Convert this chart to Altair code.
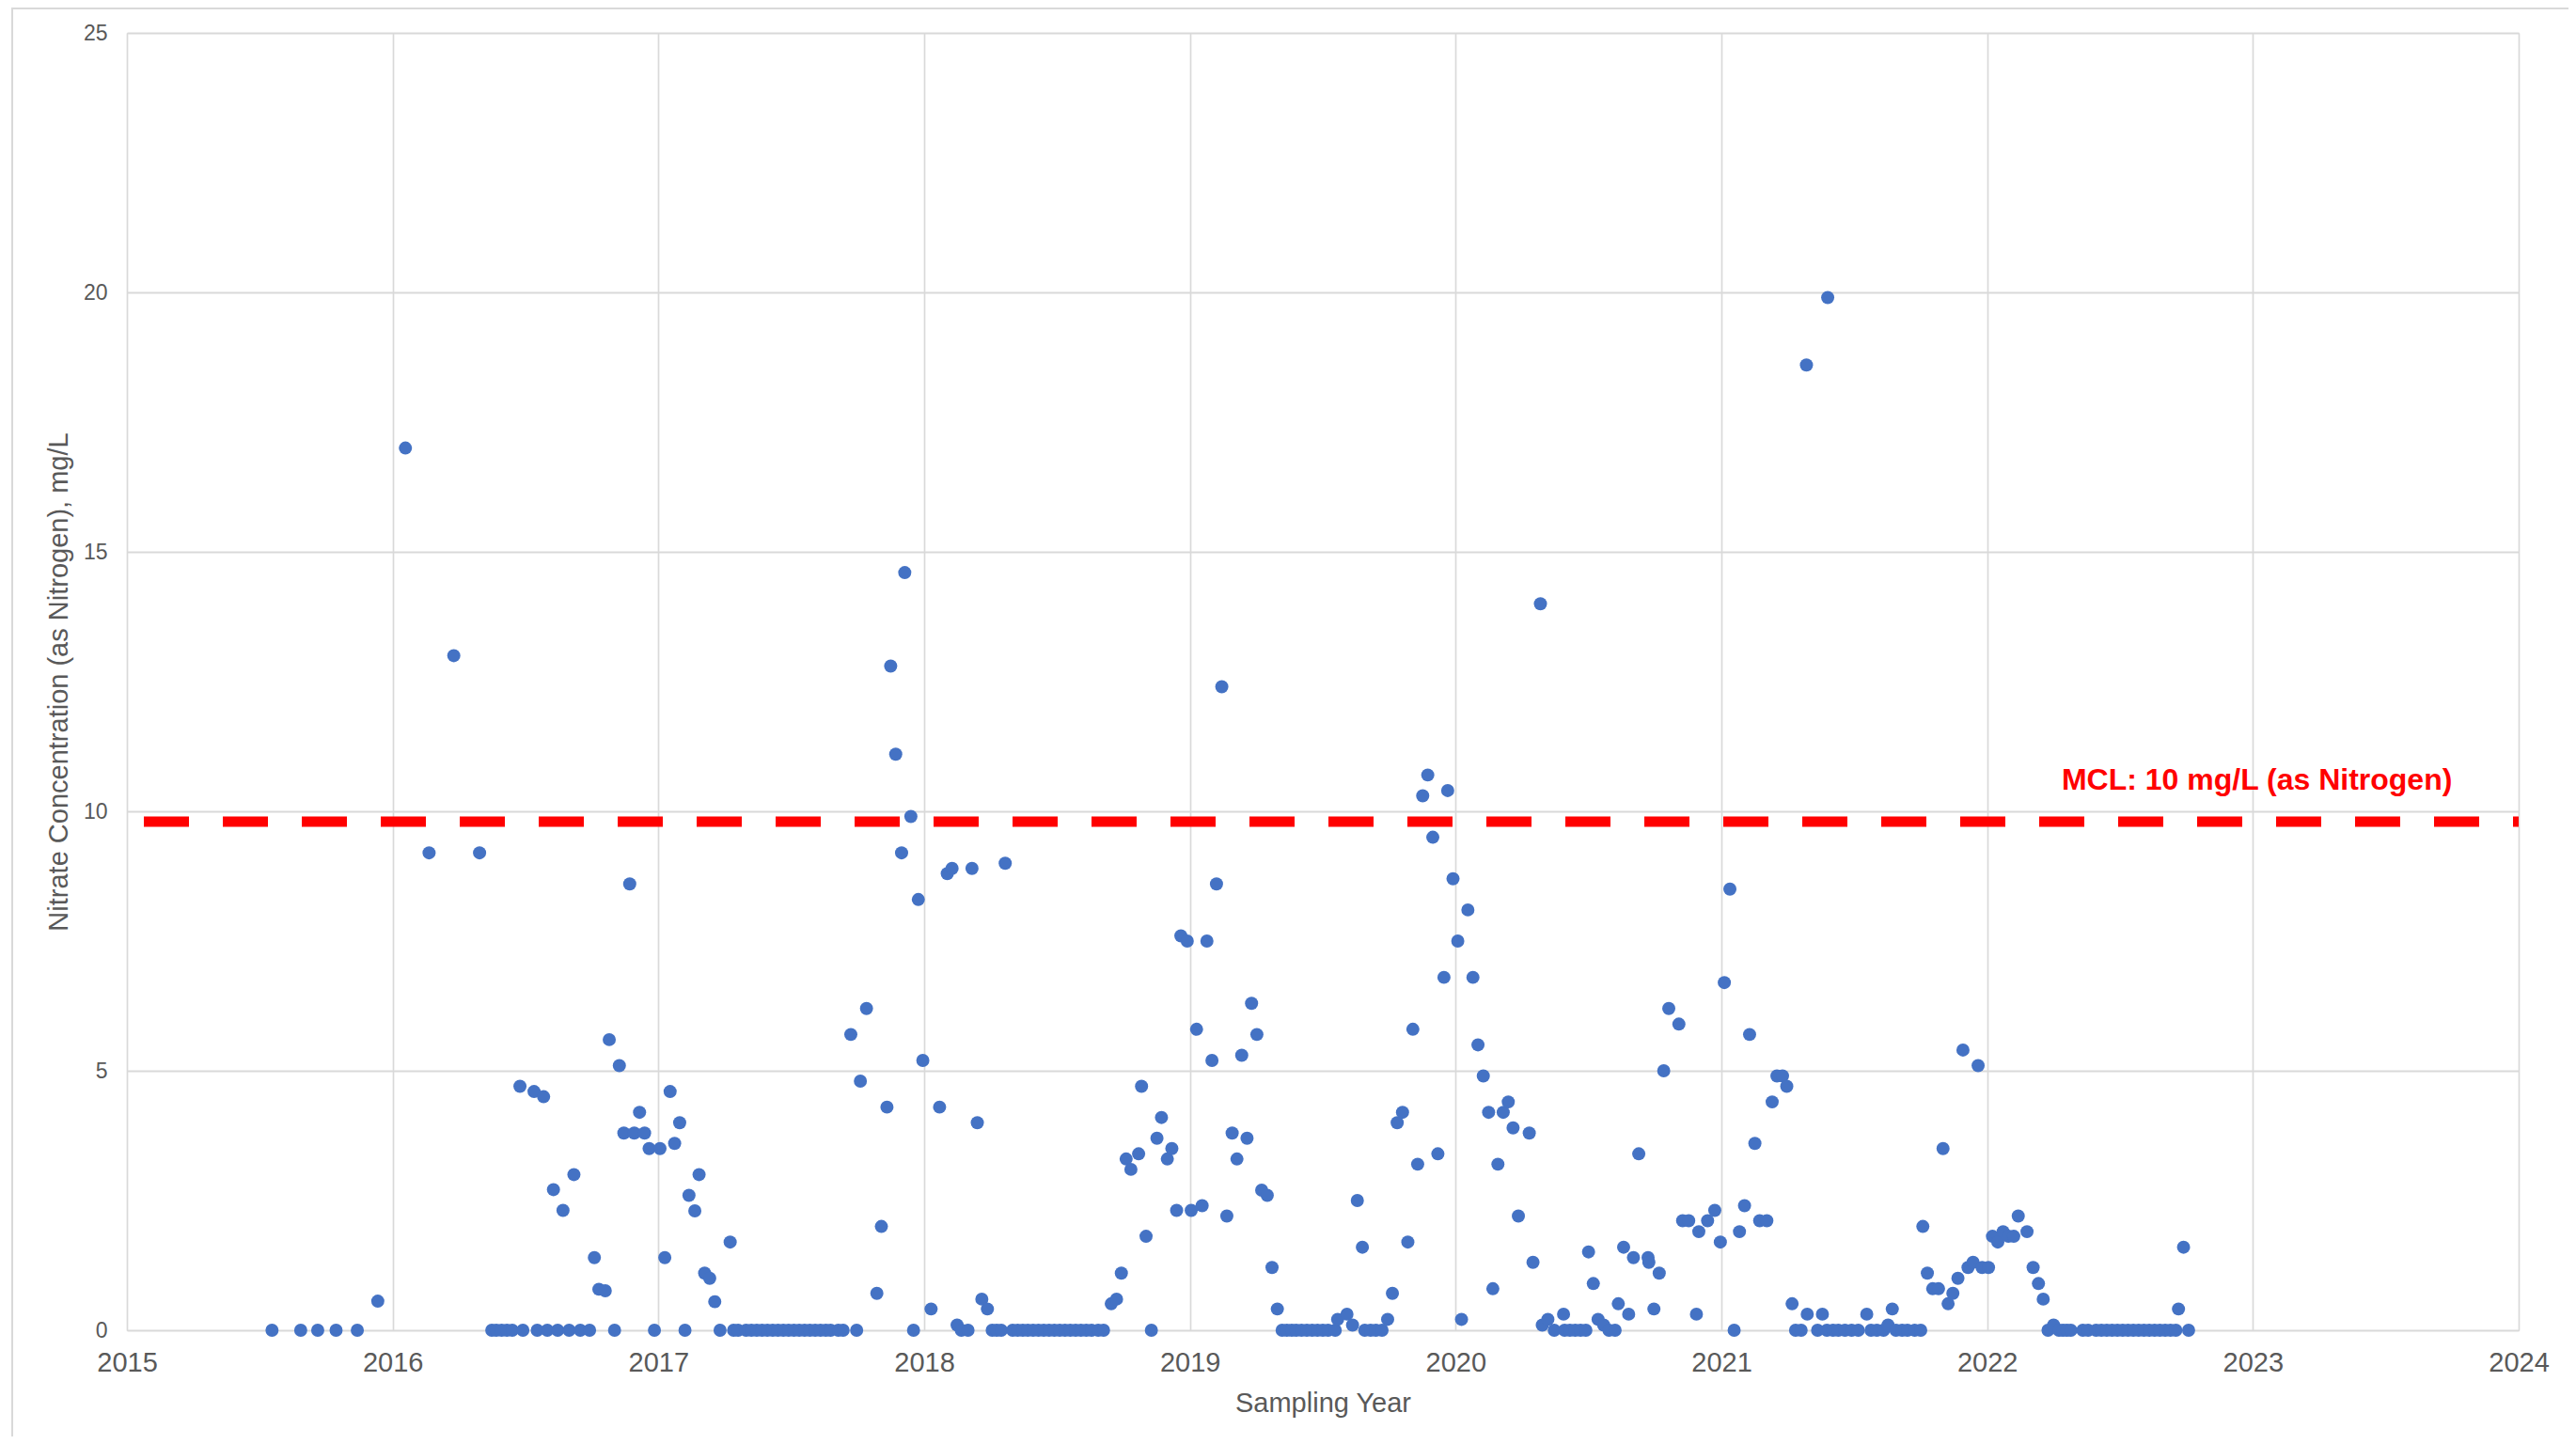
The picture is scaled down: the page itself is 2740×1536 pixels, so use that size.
import altair as alt
import pandas as pd

# ---- Data ----
years = [
    2015.546, 2015.654, 2015.718, 2015.787, 2015.867, 2015.944,
    2016.048, 2016.137, 2016.23, 2016.327,
    2016.373, 2016.39, 2016.41, 2016.43, 2016.45, 2016.49,
    2016.479, 2016.532, 2016.568,
    2016.544, 2016.582, 2016.621, 2016.664, 2016.706, 2016.741,
    2016.605, 2016.641, 2016.682, 2016.759, 2016.776, 2016.80, 2016.815, 2016.835,
    2016.853, 2016.870, 2016.892, 2016.909, 2016.929, 2016.948, 2016.965, 2016.985,
    2017.006, 2017.024, 2017.044, 2017.061, 2017.080, 2017.100, 2017.115, 2017.137,
    2017.153, 2017.174, 2017.193, 2017.212, 2017.232, 2017.27,
    2017.283, 2017.30, 2017.33, 2017.35, 2017.37, 2017.39, 2017.41, 2017.43, 2017.45,
    2017.47, 2017.49, 2017.51, 2017.53, 2017.55, 2017.57, 2017.59, 2017.61, 2017.63,
    2017.648, 2017.677, 2017.695, 2017.746,
    2017.724, 2017.76, 2017.783, 2017.822, 2017.839, 2017.86, 2017.874, 2017.893,
    2017.915, 2017.927, 2017.95, 2017.96, 2017.978, 2017.995,
    2018.026, 2018.058, 2018.087, 2018.105, 2018.124, 2018.14, 2018.165, 2018.18,
    2018.20, 2018.217, 2018.238, 2018.256, 2018.273, 2018.29, 2018.305,
    2018.333, 2018.352, 2018.371, 2018.39, 2018.41, 2018.43, 2018.45, 2018.47, 2018.49,
    2018.51, 2018.53, 2018.55, 2018.57, 2018.59, 2018.61, 2018.63, 2018.655, 2018.675,
    2018.704, 2018.724, 2018.742, 2018.76, 2018.778, 2018.807, 2018.818, 2018.835,
    2018.855, 2018.876, 2018.893, 2018.915, 2018.932, 2018.95, 2018.966, 2018.99,
    2019.005, 2019.025, 2019.046, 2019.064, 2019.083, 2019.10, 2019.12, 2019.139,
    2019.159, 2019.177, 2019.195, 2019.215, 2019.232, 2019.252, 2019.27, 2019.291,
    2019.309, 2019.329,
    2019.347, 2019.365, 2019.383, 2019.40, 2019.42, 2019.44, 2019.46, 2019.48, 2019.50,
    2019.52, 2019.547,
    2019.556, 2019.591, 2019.612, 2019.63, 2019.649,
    2019.658, 2019.68, 2019.70, 2019.723,
    2019.744, 2019.762, 2019.78, 2019.80, 2019.82, 2019.839, 2019.857, 2019.876,
    2019.895, 2019.914, 2019.933, 2019.956, 2019.97, 2019.99,
    2020.008, 2020.022, 2020.046, 2020.065, 2020.084, 2020.104, 2020.124, 2020.14,
    2020.159, 2020.179, 2020.198, 2020.216, 2020.236, 2020.277, 2020.291, 2020.319,
    2020.326, 2020.347, 2020.371, 2020.406,
    2020.41, 2020.43, 2020.45, 2020.47, 2020.49,
    2020.50, 2020.518, 2020.536, 2020.557, 2020.577, 2020.60, 2020.612, 2020.632,
    2020.651, 2020.669, 2020.689, 2020.724, 2020.727, 2020.746, 2020.766, 2020.783,
    2020.802, 2020.84, 2020.854, 2020.877, 2020.906, 2020.915, 2020.948, 2020.975,
    2020.996,
    2021.011, 2021.032, 2021.048, 2021.068, 2021.087, 2021.106, 2021.126, 2021.144,
    2021.171, 2021.191, 2021.209, 2021.23, 2021.246, 2021.266, 2021.279, 2021.30,
    2021.32, 2021.323, 2021.362, 2021.38, 2021.40,
    2021.397, 2021.42, 2021.44, 2021.465, 2021.49, 2021.515,
    2021.547, 2021.563, 2021.585, 2021.61, 2021.627, 2021.643,
    2021.657, 2021.68, 2021.70, 2021.727, 2021.75,
    2021.758, 2021.775, 2021.795, 2021.817, 2021.834, 2021.853, 2021.871, 2021.89,
    2021.909, 2021.928, 2021.947, 2021.966, 2021.981,
    2022.005, 2022.02, 2022.04, 2022.06, 2022.08, 2022.10, 2022.117, 2022.15,
    2022.173, 2022.193, 2022.211, 2022.229, 2022.25,
    2022.27, 2022.285, 2022.30, 2022.315, 2022.36, 2022.38, 2022.41, 2022.43, 2022.45,
    2022.47, 2022.49, 2022.51, 2022.53, 2022.55, 2022.57, 2022.59, 2022.61, 2022.63,
    2022.65, 2022.67, 2022.69, 2022.71,
    2022.72, 2022.739, 2022.758,
]

nitrate = [
    0, 0, 0, 0, 0, 0.56,
    17.0, 9.2, 13.0, 9.2,
    0, 0, 0, 0, 0, 0,
    4.7, 4.6, 4.5,
    0, 0, 0, 0, 0, 0,
    2.71, 2.31, 3.0, 1.40, 0.79, 0.76, 5.6, 0,
    5.1, 3.8, 8.6, 3.8, 4.2, 3.8, 3.5, 0,
    3.5, 1.40, 4.6, 3.6, 4.0, 0, 2.6, 2.3,
    3.0, 1.10, 1.0, 0.55, 0, 1.70,
    0, 0, 0, 0, 0, 0, 0, 0, 0,
    0, 0, 0, 0, 0, 0, 0, 0, 0,
    0, 0, 0, 0,
    5.7, 4.8, 6.2, 0.71, 2.0, 4.3, 12.8, 11.1,
    9.2, 14.6, 9.9, 0, 8.3, 5.2,
    0.41, 4.3, 8.8, 8.9, 0.10, 0, 0, 8.9,
    4.0, 0.60, 0.41, 0, 0, 0, 9.0,
    0, 0, 0, 0, 0, 0, 0, 0, 0,
    0, 0, 0, 0, 0, 0, 0, 0, 0,
    0.51, 0.60, 1.10, 3.3, 3.1, 3.4, 4.7, 1.81,
    0, 3.7, 4.1, 3.3, 3.5, 2.31, 7.6, 7.5,
    2.31, 5.8, 2.4, 7.5, 5.2, 8.6, 12.4, 2.2,
    3.8, 3.3, 5.3, 3.7, 6.3, 5.7, 2.7, 2.6,
    1.21, 0.41,
    0, 0, 0, 0, 0, 0, 0, 0, 0,
    0, 0,
    0.21, 0.31, 0.10, 2.5, 1.60,
    0, 0, 0, 0,
    0.21, 0.71, 4.0, 4.2, 1.70, 5.8, 3.2, 10.3,
    10.7, 9.5, 3.4, 6.8, 10.4, 8.7,
    7.5, 0.21, 8.1, 6.8, 5.5, 4.9, 4.2, 0.80,
    3.2, 4.2, 4.4, 3.9, 2.2, 3.8, 1.31, 14.0,
    0.10, 0.21, 0, 0.31,
    0, 0, 0, 0, 0,
    1.51, 0.90, 0.21, 0.10, 0, 0, 0.51, 1.60,
    0.31, 1.40, 3.4, 1.40, 1.31, 0.41, 1.10, 5.0,
    6.2, 5.9, 2.11, 2.11, 0.31, 1.90, 2.11, 2.31,
    1.70,
    6.7, 8.5, 0, 1.90, 2.4, 5.7, 3.6, 2.11,
    2.11, 4.4, 4.9, 4.9, 4.7, 0.51, 0, 0,
    18.6, 0.31, 0, 0.31, 19.9,
    0, 0, 0, 0, 0, 0,
    0.31, 0, 0, 0, 0.10, 0.41,
    0, 0, 0, 0, 0,
    2.0, 1.10, 0.80, 0.80, 3.5, 0.51, 0.71, 1.0,
    5.4, 1.21, 1.31, 5.1, 1.21,
    1.21, 1.81, 1.70, 1.90, 1.81, 1.81, 2.2, 1.90,
    1.21, 0.90, 0.60, 0, 0.10,
    0, 0, 0, 0, 0, 0, 0, 0, 0,
    0, 0, 0, 0, 0, 0, 0, 0, 0,
    0, 0, 0, 0,
    0.41, 1.60, 0,
]

mcl_x = [2015, 2024]
mcl_y = [9.8, 9.8]

label_x = [2023.75]
label_y = [10.42]
label_text = ["MCL: 10 mg/L (as Nitrogen)"]

x_ticks = [2015, 2016, 2017, 2018, 2019, 2020, 2021, 2022, 2023, 2024]
y_ticks = [0, 5, 10, 15, 20, 25]

assert len(years) == len(nitrate)

df = pd.DataFrame({"year": years, "nitrate": nitrate})
mcl_df = pd.DataFrame({"year": mcl_x, "nitrate": mcl_y})
lab_df = pd.DataFrame({"year": label_x, "nitrate": label_y, "text": label_text})

FONT = "Liberation Sans"
GRAY_TXT = "#595959"

x_enc = alt.X(
    "year:Q",
    scale=alt.Scale(domain=[2015, 2024], nice=False, zero=False),
    axis=alt.Axis(
        values=x_ticks, format="d", title="Sampling Year",
        labelFontSize=29, labelColor=GRAY_TXT, labelFont=FONT,
        titleFontSize=29, titleColor=GRAY_TXT, titleFont=FONT, titleFontWeight="normal",
        ticks=False, domain=False, grid=True, gridColor="#d9d9d9", gridWidth=1.7,
        labelPadding=20, titlePadding=14, labelFlush=False,
    ),
)
y_enc = alt.Y(
    "nitrate:Q",
    scale=alt.Scale(domain=[0, 25], nice=False),
    axis=alt.Axis(
        values=y_ticks, title="Nitrate Concentration (as Nitrogen), mg/L",
        labelFontSize=23, labelColor=GRAY_TXT, labelFont=FONT,
        titleFontSize=29, titleColor=GRAY_TXT, titleFont=FONT, titleFontWeight="normal",
        ticks=False, domain=False, grid=True, gridColor="#d9d9d9", gridWidth=2,
        labelPadding=21, titlePadding=11, labelFlush=False,
    ),
)

border = alt.Chart(pd.DataFrame({"a": [0]})).mark_rect(
    fillOpacity=0, stroke="#d9d9d9", strokeWidth=2
).encode(
    x=alt.value(-122), x2=alt.value(2700), y=alt.value(-26), y2=alt.value(1500)
)

points = alt.Chart(df).mark_circle(size=195, color="#4472C4", opacity=1).encode(
    x=x_enc, y=y_enc
)

mcl = alt.Chart(mcl_df).mark_line(
    color="#FF0000", strokeWidth=11, strokeDash=[48, 36], strokeDashOffset=66,
    strokeCap="butt",
).encode(x="year:Q", y="nitrate:Q")

label = alt.Chart(lab_df).mark_text(
    align="right", baseline="alphabetic", fontSize=32, fontWeight="bold",
    color="#FF0000", font=FONT,
).encode(x="year:Q", y="nitrate:Q", text="text:N")

chart = alt.layer(border, points, mcl, label).properties(
    width=2544, height=1380,
    autosize=alt.AutoSizeParams(type="none"),
    padding={"left": 127, "top": 27, "right": 53, "bottom": 113},
    background="white",
).configure_view(
    stroke="#d9d9d9", strokeWidth=2
).configure(font=FONT)

chart.save("out.html", embed_options={"renderer": "svg", "actions": False})
